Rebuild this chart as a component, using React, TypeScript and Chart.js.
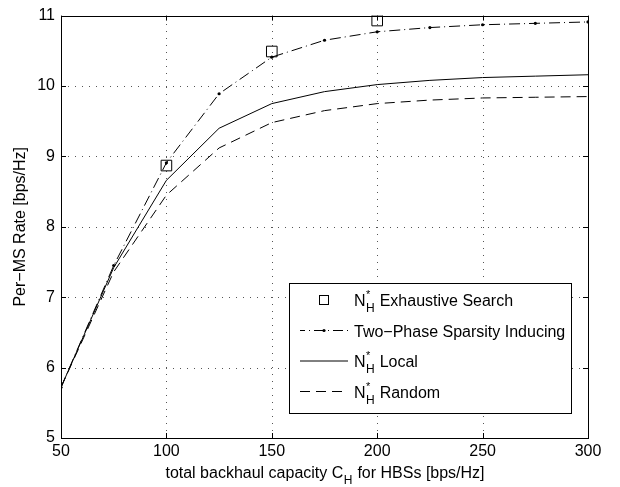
import React, { useEffect, useRef } from "react";
import { Chart, registerables } from "chart.js";

Chart.register(...registerables);

const xValues = [50, 75, 100, 125, 150, 175, 200, 225, 250, 275, 300];
const twoPhase = [5.72, 7.45, 8.91, 9.89, 10.41, 10.65, 10.77, 10.83, 10.87, 10.89, 10.91];
const localVals = [5.72, 7.42, 8.66, 9.4, 9.75, 9.92, 10.02, 10.08, 10.12, 10.14, 10.16];
const randomVals = [5.72, 7.36, 8.45, 9.12, 9.48, 9.65, 9.75, 9.8, 9.83, 9.84, 9.85];
const exhX = [100, 150, 200];
const exhY = [8.87, 10.49, 10.93];

const xTicks = [50, 100, 150, 200, 250, 300];
const yTicks = [5, 6, 7, 8, 9, 10, 11];

const FONT = "Liberation Sans, Arial, Helvetica, sans-serif";
const FS = 16;

const pts = (xs: number[], ys: number[]) => xs.map((x, i) => ({ x, y: ys[i] }));

function drawNH(ctx: CanvasRenderingContext2D, x: number, y: number, rest: string) {
  ctx.textBaseline = "alphabetic";
  ctx.textAlign = "left";
  ctx.font = `${FS}px ${FONT}`;
  ctx.fillText("N", x, y);
  const wN = ctx.measureText("N").width;
  ctx.font = `11px ${FONT}`;
  ctx.fillText("*", x + wN + 0.5, y - 8);
  ctx.font = `12px ${FONT}`;
  ctx.fillText("H", x + wN + 0.5, y + 6);
  const wH = ctx.measureText("H").width;
  ctx.font = `${FS}px ${FONT}`;
  ctx.fillText(rest, x + wN + wH + 1, y);
}

const gridPlugin = {
  id: "dotgrid",
  beforeDatasetsDraw(chart: any) {
    const { ctx, chartArea } = chart;
    const { left, right, top, bottom } = chartArea;
    const xs = chart.scales.x;
    const ys = chart.scales.y;
    ctx.save();
    ctx.strokeStyle = "#555";
    ctx.lineWidth = 1;
    ctx.setLineDash([1, 6]);
    ctx.beginPath();
    xTicks.forEach((v) => {
      const px = Math.round(xs.getPixelForValue(v)) + 0.5;
      ctx.moveTo(px, bottom);
      ctx.lineTo(px, top);
    });
    yTicks.forEach((v) => {
      const py = Math.round(ys.getPixelForValue(v)) + 0.5;
      ctx.moveTo(left, py);
      ctx.lineTo(right, py);
    });
    ctx.stroke();
    ctx.restore();
  },
};

const decorPlugin = {
  id: "decor",
  afterDraw(chart: any) {
    const { ctx, chartArea } = chart;
    const { left, right, top, bottom } = chartArea;
    const xs = chart.scales.x;
    const ys = chart.scales.y;
    ctx.save();
    ctx.strokeStyle = "#000";
    ctx.lineWidth = 1;
    ctx.setLineDash([]);
    // box
    ctx.strokeRect(Math.round(left) + 0.5, Math.round(top) + 0.5, Math.round(right - left), Math.round(bottom - top));
    // inward ticks
    const tl = 5;
    ctx.beginPath();
    xTicks.forEach((v) => {
      const px = Math.round(xs.getPixelForValue(v)) + 0.5;
      ctx.moveTo(px, bottom);
      ctx.lineTo(px, bottom - tl);
      ctx.moveTo(px, top);
      ctx.lineTo(px, top + tl);
    });
    yTicks.forEach((v) => {
      const py = Math.round(ys.getPixelForValue(v)) + 0.5;
      ctx.moveTo(left, py);
      ctx.lineTo(left + tl, py);
      ctx.moveTo(right, py);
      ctx.lineTo(right - tl, py);
    });
    ctx.stroke();

    // legend
    const lx = 289.5, ly = 283.5, lw = 282, lh = 130;
    ctx.fillStyle = "#fff";
    ctx.fillRect(lx, ly, lw, lh);
    ctx.strokeRect(lx, ly, lw, lh);
    ctx.fillStyle = "#000";
    const rows = [300, 330.5, 361, 391.5];
    const sx0 = 300, sx1 = 348, tx = 354;
    // row 1: square
    ctx.strokeRect(319.5, rows[0] - 4.5, 9, 9);
    drawNH(ctx, tx, rows[0] + 6, " Exhaustive Search");
    // row 2: dash-dot
    ctx.beginPath();
    ctx.setLineDash([10, 4, 1, 4]);
    ctx.lineDashOffset = 5;
    ctx.moveTo(sx0, rows[1]);
    ctx.lineTo(sx1, rows[1]);
    ctx.stroke();
    ctx.setLineDash([]);
    ctx.beginPath();
    ctx.arc(324, rows[1], 1.6, 0, Math.PI * 2);
    ctx.fill();
    ctx.font = `${FS}px ${FONT}`;
    ctx.textAlign = "left";
    ctx.textBaseline = "alphabetic";
    ctx.fillText("Two\u2212Phase Sparsity Inducing", tx, rows[1] + 6);
    // row 3: solid
    ctx.beginPath();
    ctx.moveTo(sx0, rows[2]);
    ctx.lineTo(sx1, rows[2]);
    ctx.stroke();
    drawNH(ctx, tx, rows[2] + 6, " Local");
    // row 4: dashed
    ctx.beginPath();
    ctx.setLineDash([10, 6]);
    ctx.lineDashOffset = 0;
    ctx.moveTo(sx0, rows[3]);
    ctx.lineTo(sx1, rows[3]);
    ctx.stroke();
    ctx.setLineDash([]);
    drawNH(ctx, tx, rows[3] + 6, " Random");

    // x title with subscript
    ctx.font = `${FS}px ${FONT}`;
    const p1 = "total backhaul capacity C";
    const p3 = " for HBSs [bps/Hz]";
    const w1 = ctx.measureText(p1).width;
    const w3 = ctx.measureText(p3).width;
    ctx.font = `12px ${FONT}`;
    const w2 = ctx.measureText("H").width;
    const total = w1 + w2 + w3;
    const cx = (left + right) / 2;
    const x = cx - total / 2;
    const by = 478;
    ctx.textAlign = "left";
    ctx.font = `${FS}px ${FONT}`;
    ctx.fillText(p1, x, by);
    ctx.font = `12px ${FONT}`;
    ctx.fillText("H", x + w1 + 0.5, by + 6);
    ctx.font = `${FS}px ${FONT}`;
    ctx.fillText(p3, x + w1 + w2 + 1, by);

    // y title
    ctx.save();
    ctx.translate(21, (top + bottom) / 2);
    ctx.rotate(-Math.PI / 2);
    ctx.textAlign = "center";
    ctx.textBaseline = "middle";
    ctx.font = `${FS}px ${FONT}`;
    ctx.fillText("Per\u2212MS Rate [bps/Hz]", 0, 0);
    ctx.restore();

    ctx.restore();
  },
};

export default function App() {
  const ref = useRef<HTMLCanvasElement | null>(null);
  useEffect(() => {
    if (!ref.current) return;
    const chart = new Chart(ref.current, {
      type: "line",
      data: {
        datasets: [
          {
            label: "Exhaustive Search",
            data: pts(exhX, exhY),
            showLine: false,
            pointStyle: "rect",
            pointRadius: 7.5,
            borderColor: "#000",
            backgroundColor: "rgba(0,0,0,0)",
            borderWidth: 1,
          },
          {
            label: "Two-Phase Sparsity Inducing",
            data: pts(xValues, twoPhase),
            borderColor: "#000",
            backgroundColor: "#000",
            borderWidth: 1,
            borderDash: [11, 4, 1, 4],
            pointRadius: 1.6,
            pointBorderWidth: 0,
            tension: 0,
          },
          {
            label: "Local",
            data: pts(xValues, localVals),
            borderColor: "#000",
            borderWidth: 1,
            pointRadius: 0,
            tension: 0,
          },
          {
            label: "Random",
            data: pts(xValues, randomVals),
            borderColor: "#000",
            borderWidth: 1,
            borderDash: [10, 6],
            pointRadius: 0,
            tension: 0,
          },
        ],
      },
      options: {
        animation: false,
        responsive: false,
        layout: { padding: { left: 0, top: 6, right: 32, bottom: 0 } },
        plugins: { legend: { display: false }, tooltip: { enabled: false } },
        scales: {
          x: {
            type: "linear",
            min: 50,
            max: 300,
            afterFit: (s: any) => { s.height = 49; },
            afterBuildTicks: (s: any) => { s.ticks = xTicks.map((v) => ({ value: v })); },
            grid: { display: false, drawTicks: false },
            border: { display: false },
            ticks: { color: "#000", font: { family: FONT, size: FS }, padding: 4, maxRotation: 0 },
          },
          y: {
            type: "linear",
            min: 5,
            max: 11,
            afterFit: (s: any) => { s.width = 61; },
            afterBuildTicks: (s: any) => { s.ticks = yTicks.map((v) => ({ value: v })); },
            grid: { display: false, drawTicks: false },
            border: { display: false },
            ticks: { color: "#000", font: { family: FONT, size: FS }, padding: 6 },
          },
        },
      },
      plugins: [gridPlugin, decorPlugin],
    } as any);
    return () => chart.destroy();
  }, []);
  return (
    <div style={{ position: "fixed", left: 0, top: 0, width: 620, height: 487, background: "#fff" }}>
      <canvas ref={ref} width={620} height={487} style={{ display: "block" }} />
    </div>
  );
}
